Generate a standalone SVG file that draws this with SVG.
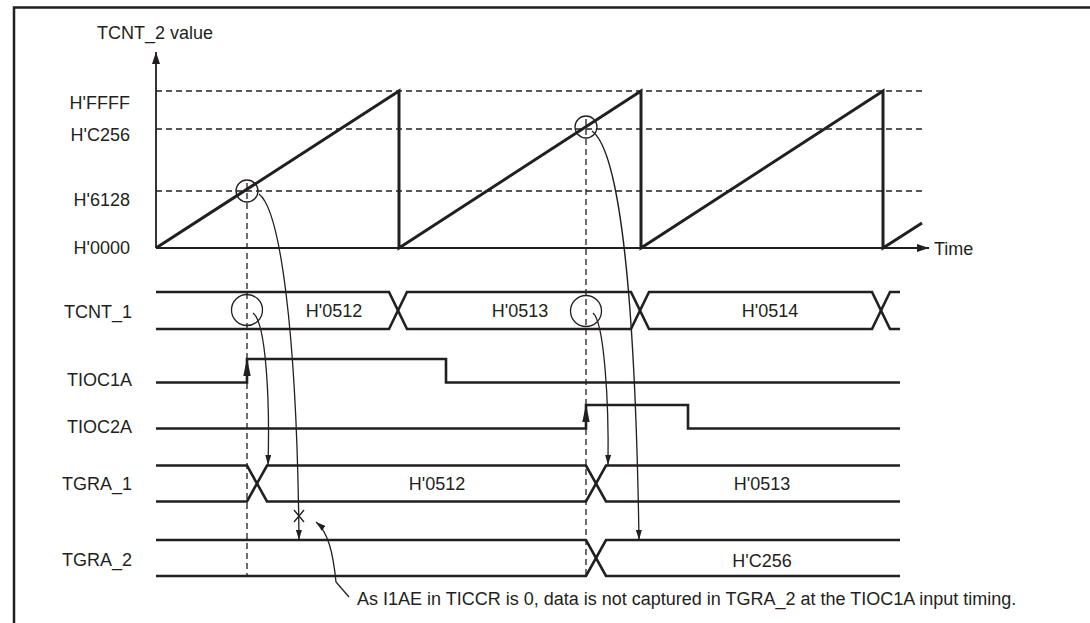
<svg xmlns="http://www.w3.org/2000/svg" width="1090" height="623" viewBox="0 0 1090 623">
<defs>
<style>
text{font-family:"Liberation Sans",Arial,sans-serif;font-size:18px;fill:#231f20}
.r{text-anchor:end}
.m{text-anchor:middle}
.thick{fill:none;stroke:#231f20;stroke-width:3;stroke-linejoin:miter}
.sig{fill:none;stroke:#231f20;stroke-width:2.6}
.thin{fill:none;stroke:#231f20;stroke-width:1.3}
.dash{fill:none;stroke:#231f20;stroke-width:1.3;stroke-dasharray:6,4}
.ax{fill:none;stroke:#231f20;stroke-width:1.8}
</style>
<marker id="arr" viewBox="0 0 10 6" refX="10" refY="3" markerWidth="10" markerHeight="6" orient="auto" markerUnits="userSpaceOnUse"><path d="M0,0 L10,3 L0,6 Z" fill="#231f20"/></marker>
<marker id="axarr" viewBox="0 0 12 8" refX="12" refY="4" markerWidth="12" markerHeight="8" orient="auto" markerUnits="userSpaceOnUse"><path d="M0,0 L12,4 L0,8 Z" fill="#231f20"/></marker>
</defs>
<rect width="1090" height="623" fill="#fff"/>
<path d="M14,623 V7.5 H1090" fill="none" stroke="#231f20" stroke-width="2.5"/>

<g id="graph">
<path class="dash" d="M156,91 H922 M156,129 H922 M156,191 H922"/>
<path class="ax" d="M156,248 V52" marker-end="url(#axarr)"/>
<path class="ax" d="M156,248 H929" marker-end="url(#axarr)"/>
<path class="thick" d="M156,248 L399,91 L399,248 L641,91 L641,248 L883,91 L883,248 L922,223"/>
<text x="97" y="39">TCNT_2 value</text>
<text class="r" x="130" y="109">H'FFFF</text>
<text class="r" x="130" y="141">H'C256</text>
<text class="r" x="130" y="206">H'6128</text>
<text class="r" x="130" y="254">H'0000</text>
<text x="934" y="255">Time</text>
</g>

<g id="guides">
<path class="dash" d="M247,183 V576 M586,119 V576"/>
<circle class="thin" cx="247" cy="191" r="11"/>
<circle class="thin" cx="586" cy="127" r="11"/>
<circle class="thin" cx="247" cy="310" r="15.5"/>
<circle class="thin" cx="586" cy="311" r="15.5"/>
</g>

<g id="tcnt1">
<text class="r" x="132" y="318">TCNT_1</text>
<path class="sig" d="M156,292 H389 L407,329 H631 L649,292 H872 L890,329 H900"/>
<path class="sig" d="M156,329 H389 L407,292 H631 L649,329 H872 L890,292 H900"/>
<text class="m" x="334" y="317">H'0512</text>
<text class="m" x="520" y="317">H'0513</text>
<text class="m" x="770" y="317">H'0514</text>
</g>

<g id="tioc1a">
<text class="r" x="132" y="386">TIOC1A</text>
<path class="sig" d="M156,382.5 H247 V359 H446 V382.5 H900"/>
<polygon points="247,358 243.3,376 250.7,376" fill="#231f20"/>
</g>

<g id="tioc2a">
<text class="r" x="132" y="433">TIOC2A</text>
<path class="sig" d="M156,428.5 H586 V405 H688 V428.5 H900"/>
<polygon points="586,404 582.3,422 589.7,422" fill="#231f20"/>
</g>

<g id="tgra1">
<text class="r" x="132" y="490">TGRA_1</text>
<path class="sig" d="M156,465.5 H247 L267,501.5 H586 L606,465.5 H900"/>
<path class="sig" d="M156,501.5 H247 L267,465.5 H586 L606,501.5 H900"/>
<text class="m" x="437" y="490">H'0512</text>
<text class="m" x="762" y="490">H'0513</text>
</g>

<g id="tgra2">
<text class="r" x="132" y="566">TGRA_2</text>
<path class="sig" d="M156,540 H586 L606,576 H900"/>
<path class="sig" d="M156,576 H586 L606,540 H900"/>
<text class="m" x="762" y="567">H'C256</text>
</g>

<g id="connectors">
<path class="thin" d="M259,194 C280,210 297,330 299,540" marker-end="url(#arr)"/>
<path class="thin" d="M253,313 C266,322 270,400 268,465" marker-end="url(#arr)"/>
<path class="thin" d="M592,131 C618,150 635,280 639,540" marker-end="url(#arr)"/>
<path class="thin" d="M593,313 C604,322 609,400 608,465" marker-end="url(#arr)"/>
<path class="thin" d="M294,510 L304,522 M294,522 L304,510"/>
<path class="thin" d="M349,597 L336,582 C333,552 328,532 316,522" marker-end="url(#arr)"/>
</g>

<g id="note">
<text x="357" y="605">As I1AE in TICCR is 0, data is not captured in TGRA_2 at the TIOC1A input timing.</text>
</g>
</svg>
